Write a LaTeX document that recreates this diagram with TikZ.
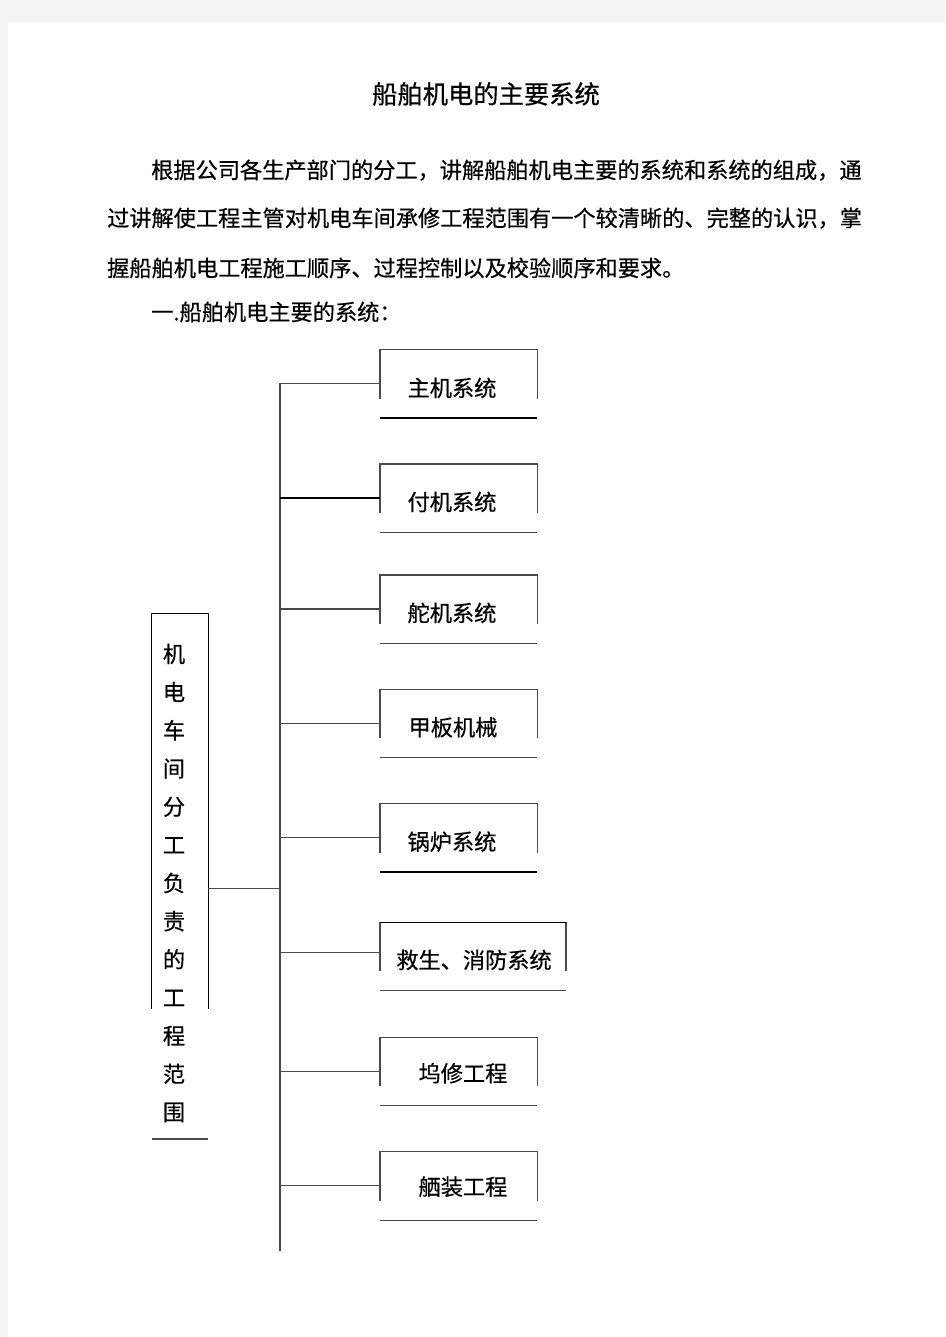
\documentclass[tikz,border=0pt]{standalone}
\usepackage{fontspec}
\setmainfont[FakeBold=0.5,AutoFakeBold=0.5]{Noto Sans CJK SC}
\definecolor{pagegray}{HTML}{F3F3F3}
\definecolor{linegray}{HTML}{4A4A4A}
\newcommand\openbox[9]{% #1 name, #2 top y, #3 left x, #4 right x, #5 text x, #6 text dy, #7 text, #8 top/side style, #9 bottom style
  \draw[boxline,#8] (#3,#2+49) -- (#3,#2) -- (#4,#2) -- (#4,#2+49);
  \draw[boxline,#9] (#3,#2+68.5) -- (#4,#2+68.5);
  \node[txt] (#1) at (#5,#2+#6) {#7};
  \coordinate (#1-in) at (#3,#2+34);
}
\begin{document}
\begin{tikzpicture}[x=1pt,y=-1pt,
  txt/.style={inner sep=0pt, font=\fontsize{22.2}{26}\selectfont\bfseries, text height=19.5pt, text depth=2.7pt},
  ttl/.style={inner sep=0pt, font=\fontsize{25.3}{30}\selectfont\bfseries, text height=22.2pt, text depth=3.1pt},
  boxline/.style={draw=linegray, line width=1.1pt},
  heavy/.style={draw=black, line width=2pt},
  conn/.style={draw=linegray, line width=1.1pt}]
\useasboundingbox (0,0) rectangle (945,1337);
\fill[pagegray] (0,0) rectangle (945,1337);
\fill[white] (8,22) rectangle (945,1337);

% title and text
\node[ttl] (title) at (486,94) {船舶机电的主要系统};
\node[txt, anchor=west] (p1) at (151,170) {根据公司各生产部门的分工，讲解船舶机电主要的系统和系统的组成，通};
\node[txt, anchor=west] (p2) at (107,218) {过讲解使工程主管对机电车间承修工程范围有一个较清晰的、完整的认识，掌};
\node[txt, anchor=west] (p3) at (107,268) {握船舶机电工程施工顺序、过程控制以及校验顺序和要求。};
\node[txt, anchor=west] (p4) at (151,312) {一.船舶机电主要的系统：};

% left box
\draw[boxline, draw=black, line width=1.5pt] (151.7,1009) -- (151.7,613.3) -- (208.3,613.3) -- (208.3,1009);
\draw[boxline] (151.7,1139) -- (208.3,1139);
\foreach \c [count=\i from 0] in {机,电,车,间,分,工,负,责,的,工,程,范,围}
  \node[txt] (v\i) at (174,654+38.17*\i) {\c};
\coordinate (left-out) at (208.3,888.3);

% trunk
\coordinate (trunk-top) at (280,383.3);
\coordinate (trunk-bot) at (280,1250.7);
\coordinate (trunk-mid) at (280,888.3);
\draw[conn] (trunk-top) -- (trunk-bot);
\draw[conn] (left-out) -- (trunk-mid);

% boxes
\openbox{b1}{349.5}{380}{537.3}{452}{38.5}{主机系统}{}{heavy}
\openbox{b2}{464}{380}{537.3}{452}{38}{付机系统}{}{}
\openbox{b3}{575}{380}{537.3}{452}{38}{舵机系统}{}{}
\openbox{b4}{689.3}{380}{537.3}{453}{38}{甲板机械}{}{}
\openbox{b5}{803.7}{380}{537.3}{452}{38}{锅炉系统}{}{heavy}
\draw[boxline] (380,922.3+49) -- (380,922.3);
\draw[boxline] (566,922.3+49) -- (566,922.3);
\draw[draw=black, line width=1.6pt] (379.5,922.3) -- (566.5,922.3);
\draw[boxline] (380,990.7) -- (566,990.7);
\node[txt] (b6) at (474,960) {救生、消防系统};
\coordinate (b6-in) at (380,952.3);
\openbox{b7}{1037.3}{380}{537.3}{463}{36}{坞修工程}{}{}
\openbox{b8}{1151.7}{380}{537.3}{463}{35}{舾装工程}{}{}

% branches
\foreach \b in {b1,b3,b4,b5,b6,b7,b8}
  \draw[conn] (trunk-top |- \b-in) -- (\b-in);
\draw[heavy] (trunk-top |- b2-in) -- (b2-in);
\end{tikzpicture}
\end{document}
